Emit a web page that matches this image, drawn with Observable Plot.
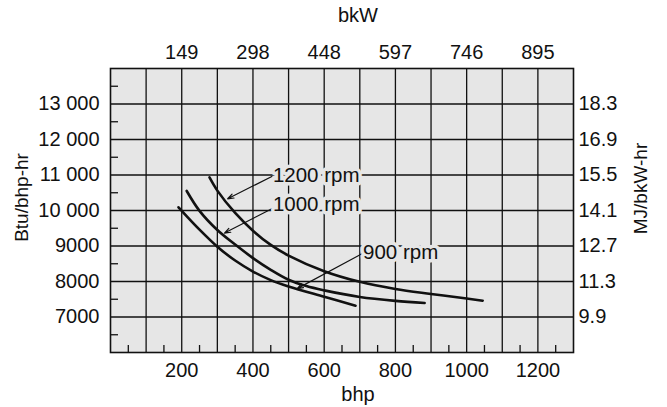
<!DOCTYPE html>
<html><head><meta charset="utf-8">
<script src="https://cdn.jsdelivr.net/npm/d3@7"></script>
<script src="https://cdn.jsdelivr.net/npm/@observablehq/plot@0.6"></script>
<style>body{margin:0;background:#fff;}</style>
</head><body><div id="chart"></div>
<script>
// Data
const bhp900  = [191, 200, 250, 300, 350, 400, 450, 500, 600, 688];
const btu900  = [10090, 9990, 9460, 8980, 8590, 8280, 8040, 7860, 7570, 7320];
const bhp1000 = [214, 250, 300, 350, 400, 450, 500, 550, 600, 700, 800, 882];
const btu1000 = [10550, 9990, 9450, 9040, 8660, 8330, 8050, 7870, 7750, 7565, 7455, 7395];
const bhp1200 = [278, 300, 350, 400, 450, 500, 600, 700, 800, 900, 1000, 1045];
const btu1200 = [10930, 10560, 9930, 9430, 9030, 8730, 8290, 7990, 7790, 7650, 7520, 7460];

const bottomTicks = [200, 400, 600, 800, 1000, 1200];
const bkwLabels = ["149", "298", "448", "597", "746", "895"];
const yTicks = [7000, 8000, 9000, 10000, 11000, 12000, 13000];
const btuLabels = ["7000", "8000", "9000", "10 000", "11 000", "12 000", "13 000"];
const mjLabels = ["9.9", "11.3", "12.7", "14.1", "15.5", "16.9", "18.3"];
const gridX = [100, 200, 300, 400, 500, 600, 700, 800, 900, 1000, 1100, 1200];
const gridY = [7000, 8000, 9000, 10000, 11000, 12000, 13000];
const minorX = [50, 150, 250, 350, 450, 550, 650, 750, 850, 950, 1050, 1150, 1250];
const minorY = [6500, 7500, 8500, 9500, 10500, 11500, 12500, 13500];

const curveNames = ["900 rpm", "1000 rpm", "1200 rpm"];
const labelX = [709, 456, 456];
const labelY = [8830, 10165, 10990];
const leaderX1 = [706, 453, 453];
const leaderY1 = [8780, 10050, 10960];
const leaderX2 = [524, 320, 329];
const leaderY2 = [7800, 9365, 10330];

const series = [
  bhp900.map((x, i) => ({x, y: btu900[i], s: "900"})),
  bhp1000.map((x, i) => ({x, y: btu1000[i], s: "1000"})),
  bhp1200.map((x, i) => ({x, y: btu1200[i], s: "1200"}))
].flat();
const labels = curveNames.map((t, i) => ({t, x: labelX[i], y: labelY[i]}));
const leaders = curveNames.map((t, i) => ({x1: leaderX1[i], y1: leaderY1[i], x2: leaderX2[i], y2: leaderY2[i]}));

const BG = "#e6e6e6", INK = "#111";
const chart = Plot.plot({
  width: 667, height: 407,
  marginLeft: 110, marginRight: 94, marginTop: 68, marginBottom: 55,
  style: {fontFamily: "'Liberation Sans', Arial, sans-serif", fontSize: "20px", color: INK, background: "#fff"},
  x: {domain: [0, 1300]},
  y: {domain: [6000, 14000]},
  marks: [
    Plot.frame({fill: BG, stroke: null}),
    Plot.gridX(gridX, {stroke: INK, strokeOpacity: 1, strokeWidth: 1.3}),
    Plot.gridY(gridY, {stroke: INK, strokeOpacity: 1, strokeWidth: 1.3}),
    Plot.tickX(minorX, {x: d => d, insetTop: 277, stroke: INK, strokeWidth: 1.3}),
    Plot.tickY(minorY, {y: d => d, insetRight: 455, stroke: INK, strokeWidth: 1.3}),
    Plot.frame({stroke: INK, strokeWidth: 1.6}),
    Plot.line(series, {x: "x", y: "y", z: "s", stroke: INK, strokeWidth: 2.6, curve: "catmull-rom"}),
    Plot.arrow(leaders, {x1: "x1", y1: "y1", x2: "x2", y2: "y2", stroke: INK, strokeWidth: 1.2, headLength: 8, headAngle: 40}),
    Plot.text(labels, {x: "x", y: "y", text: "t", textAnchor: "start", lineAnchor: "middle", fill: INK, stroke: BG, strokeWidth: 7, fontSize: 20.5}),
    Plot.axisX({anchor: "bottom", ticks: bottomTicks, tickFormat: d => String(d), tickSize: 0, tickPadding: 10, fontSize: 20, label: null}),
    Plot.axisX({anchor: "top", ticks: bottomTicks, tickFormat: d => bkwLabels[bottomTicks.indexOf(d)], tickSize: 0, tickPadding: 10, fontSize: 20, label: null}),
    Plot.axisY({anchor: "left", ticks: yTicks, tickFormat: d => btuLabels[yTicks.indexOf(d)], tickSize: 0, tickPadding: 11, fontSize: 20, label: null}),
    Plot.axisY({anchor: "right", ticks: yTicks, tickFormat: d => mjLabels[yTicks.indexOf(d)], tickSize: 0, tickPadding: 5, fontSize: 20, label: null}),
    Plot.text(["bkW"], {frameAnchor: "top", textAnchor: "middle", lineAnchor: "middle", dx: 16, dy: -53, fontSize: 20, fill: INK}),
    Plot.text(["bhp"], {frameAnchor: "bottom", textAnchor: "middle", lineAnchor: "middle", dx: 16, dy: 42, fontSize: 20, fill: INK}),
    Plot.text(["Btu/bhp-hr"], {frameAnchor: "left", textAnchor: "middle", lineAnchor: "middle", rotate: -90, dx: -89, dy: -13, fontSize: 19, fill: INK}),
    Plot.text(["MJ/bkW-hr"], {frameAnchor: "right", textAnchor: "middle", lineAnchor: "middle", rotate: -90, dx: 67, dy: -22, fontSize: 19, fill: INK})
  ]
});
document.getElementById("chart").appendChild(chart);
</script>
</body></html>
